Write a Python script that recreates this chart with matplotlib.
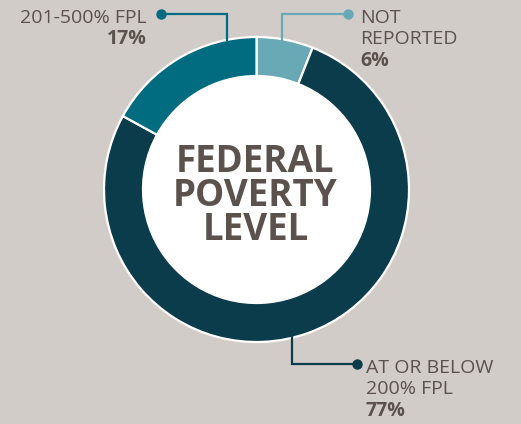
import matplotlib.pyplot as plt
from matplotlib.patches import Circle

labels = ['NOT\nREPORTED', 'AT OR BELOW\n200% FPL', '201-500% FPL']
shares = [6, 77, 17]
colors = ['#69a8b5', '#0a3c4b', '#016b80']
center_title = 'FEDERAL\nPOVERTY\nLEVEL'

W, H = 521, 424
bg = '#d2ccc9'
txt = '#5b524d'

def py(y):
    # pixel row (from top) -> data y
    return H - y

fig = plt.figure(figsize=(W / 100, H / 100), dpi=100, facecolor=bg)
ax = fig.add_axes([0, 0, 1, 1])
ax.set_facecolor(bg)

cx, cy = 256.5, 189.5
R, ring = 152.5, 39

ax.pie(shares, colors=colors, startangle=90, counterclock=False,
       center=(cx, py(cy)), radius=R,
       wedgeprops=dict(width=ring, edgecolor='white', linewidth=1.6))
ax.add_patch(Circle((cx, py(cy)), R - ring, facecolor='white', edgecolor='none'))

ax.set_xlim(0, W)
ax.set_ylim(0, H)
ax.set_aspect('equal')
ax.axis('off')

# centre title
ax.text(cx - 1, py(196), center_title, ha='center', va='center', fontsize=26.5,
        fontweight='bold', family='Open Sans', color=txt, linespacing=0.86)

# leader lines (elbow paths, pixel coords)
leaders = [
    [(348, 13.5), (282, 13.5), (282, 41)],
    [(357, 364), (292, 364), (292, 336)],
    [(161, 13.5), (227, 13.5), (227, 41)],
]
for pts, c in zip(leaders, colors):
    xs = [p[0] for p in pts]
    ys = [py(p[1]) for p in pts]
    ax.plot(xs, ys, color=c, lw=1.6, solid_capstyle='butt', solid_joinstyle='miter')
    ax.plot(xs[0], ys[0], 'o', color=c, ms=7.5, mec='none')

# labels: (x, first baseline, ha)
label_pos = [(360, 22.7, 'left'), (366, 372.7, 'left'), (147, 22.7, 'right')]
for lab, val, (lx, b0, ha) in zip(labels, shares, label_pos):
    lines = lab.split('\n')
    for i, line in enumerate(lines):
        ax.text(lx, py(b0 + 21.8 * i), line, ha=ha, va='baseline', fontsize=14,
                family='Open Sans', color=txt)
    ax.text(lx, py(b0 + 21.8 * len(lines)), f'{val}%', ha=ha, va='baseline',
            fontsize=14, fontweight='bold', family='Open Sans', color=txt)

fig.savefig('out.png', dpi=100, facecolor=bg)
